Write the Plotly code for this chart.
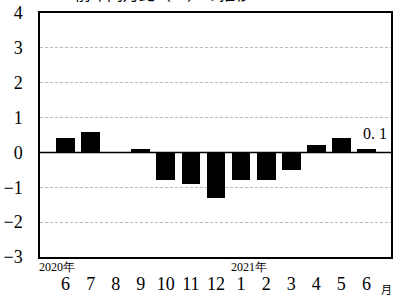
import plotly.graph_objects as go

months = ["6", "7", "8", "9", "10", "11", "12", "1", "2", "3", "4", "5", "6"]
values = [0.4, 0.6, 0.0, 0.1, -0.8, -0.9, -1.3, -0.8, -0.8, -0.5, 0.2, 0.4, 0.1]
y_ticks = [4, 3, 2, 1, 0, -1, -2, -3]
year_labels = ["2020年", "2021年"]
year_index = [0, 7]
last_label = "0. 1"
title_text = "前年同月比（％）の推移"

xs = list(range(len(months)))
serif = "Liberation Serif"
cjk = "Noto Sans CJK JP"

fig = go.Figure()
fig.add_trace(go.Bar(x=xs, y=values, width=0.75, marker=dict(color="black", line=dict(width=0))))

fig.add_hline(y=0, line=dict(color="black", width=1.5))

year_shift = [-29, -12]
for txt, i, sh in zip(year_labels, year_index, year_shift):
    fig.add_annotation(x=i, y=0, xref="x", yref="paper", text=txt, showarrow=False,
                       xanchor="left", yanchor="top", yshift=-1, xshift=sh,
                       font=dict(family=serif, size=12, color="black"))

fig.add_annotation(x=1, y=0, xref="paper", yref="paper", text="月", showarrow=False,
                   xanchor="right", yanchor="top", yshift=-22, xshift=3,
                   font=dict(family=cjk, size=11, color="black"))

fig.add_annotation(x=xs[-1], y=values[-1], xref="x", yref="y", text=last_label, showarrow=False,
                   xanchor="center", yanchor="bottom", xshift=9, yshift=5,
                   font=dict(family=serif, size=16, color="black"))

fig.add_annotation(x=0.35, y=1, xref="paper", yref="paper", text=title_text, showarrow=False,
                   xanchor="center", yanchor="bottom", yshift=6,
                   font=dict(family=cjk, size=16, color="black"))

fig.update_layout(
    width=395, height=296,
    margin=dict(l=40, r=2, t=13, b=36),
    plot_bgcolor="white", paper_bgcolor="white",
    showlegend=False,
    bargap=0,
)
fig.update_xaxes(range=[-1.02, 12.98], tickvals=xs, ticktext=months, showgrid=False,
                 showline=True, linecolor="black", linewidth=1.5, mirror=True,
                 ticks="", ticklabelstandoff=10, zeroline=False,
                 tickfont=dict(family=serif, size=18, color="black"))
fig.update_yaxes(range=[-3, 4], tickvals=y_ticks, showgrid=True, gridcolor="#bbbbbb",
                 griddash="3px,2px", gridwidth=1, zeroline=False,
                 showline=True, linecolor="black", linewidth=1.5, mirror=True,
                 ticks="", ticklabelstandoff=12,
                 tickfont=dict(family=serif, size=18, color="black"))

fig.write_html("out.html", config={"displayModeBar": False},
               post_script="document.body.style.margin='0';document.body.style.overflow='hidden';")
